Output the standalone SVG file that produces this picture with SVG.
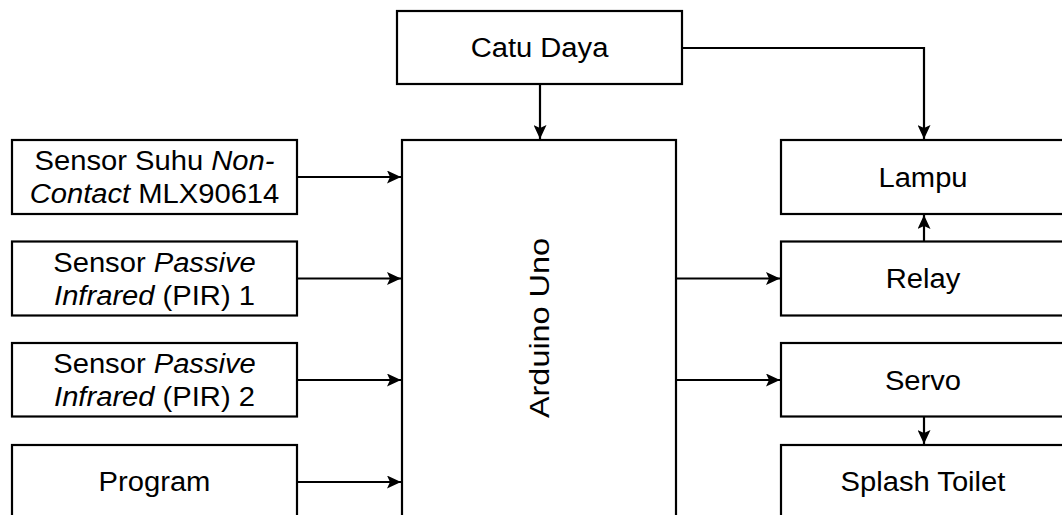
<svg xmlns="http://www.w3.org/2000/svg" width="1062" height="515" viewBox="0 0 1062 515">
<style>
  .box{fill:#fff;stroke:#000;stroke-width:2.2}
  .lbl{font-family:"Liberation Sans",Arial,sans-serif;font-size:27px;fill:#000;text-anchor:middle}
  .it{font-style:italic}
  .con{fill:none;stroke:#000;stroke-width:2.2}
</style>
<defs>
  <marker id="arr" markerUnits="userSpaceOnUse" markerWidth="14" markerHeight="13" viewBox="0 0 14 13" refX="14" refY="6.5" orient="auto">
    <path d="M0,0 L14,6.5 L0,13 L3,6.5 Z" fill="#000"/>
  </marker>
</defs>
<rect width="1062" height="515" fill="#fff"/>

<g id="catu-daya">
  <rect class="box" x="397" y="11" width="285" height="73"/>
  <text class="lbl" transform="translate(539.5,57) scale(1.08,1)">Catu Daya</text>
</g>

<g id="arduino-uno">
  <rect class="box" x="402" y="140" width="274" height="390"/>
  <text class="lbl" transform="translate(549,328) rotate(-90) scale(1.2,1)" font-size="28">Arduino Uno</text>
</g>

<g id="sensor-suhu">
  <rect class="box" x="12" y="140" width="285" height="74"/>
  <text class="lbl" transform="translate(154.5,0) scale(1.08,1)"><tspan x="0" y="170.5">Sensor Suhu <tspan class="it">Non-</tspan></tspan><tspan x="0" y="203"><tspan class="it">Contact</tspan> MLX90614</tspan></text>
</g>

<g id="pir-1">
  <rect class="box" x="12" y="241.5" width="285" height="74"/>
  <text class="lbl" transform="translate(154.5,0) scale(1.08,1)"><tspan x="0" y="272.5">Sensor <tspan class="it">Passive</tspan></tspan><tspan x="0" y="305"><tspan class="it">Infrared</tspan> (PIR) 1</tspan></text>
</g>

<g id="pir-2">
  <rect class="box" x="12" y="343" width="285" height="73.5"/>
  <text class="lbl" transform="translate(154.5,0) scale(1.08,1)"><tspan x="0" y="373.5">Sensor <tspan class="it">Passive</tspan></tspan><tspan x="0" y="406"><tspan class="it">Infrared</tspan> (PIR) 2</tspan></text>
</g>

<g id="program">
  <rect class="box" x="12" y="445" width="285" height="80"/>
  <text class="lbl" transform="translate(154.5,490.5) scale(1.08,1)">Program</text>
</g>

<g id="lampu">
  <rect class="box" x="781" y="140" width="290" height="74"/>
  <text class="lbl" transform="translate(923,186.5) scale(1.08,1)">Lampu</text>
</g>

<g id="relay">
  <rect class="box" x="781" y="241.5" width="290" height="74"/>
  <text class="lbl" transform="translate(923,288) scale(1.08,1)">Relay</text>
</g>

<g id="servo">
  <rect class="box" x="781" y="343" width="290" height="73.5"/>
  <text class="lbl" transform="translate(923,389.5) scale(1.08,1)">Servo</text>
</g>

<g id="splash-toilet">
  <rect class="box" x="781" y="445" width="290" height="80"/>
  <text class="lbl" transform="translate(923,490.5) scale(1.08,1)">Splash Toilet</text>
</g>

<g id="connectors">
  <path class="con" d="M540,84 V139" marker-end="url(#arr)"/>
  <path class="con" d="M682,48 H924 V139" marker-end="url(#arr)"/>
  <path class="con" d="M297,177 H401" marker-end="url(#arr)"/>
  <path class="con" d="M297,278.5 H401" marker-end="url(#arr)"/>
  <path class="con" d="M297,380 H401" marker-end="url(#arr)"/>
  <path class="con" d="M297,482 H401" marker-end="url(#arr)"/>
  <path class="con" d="M676,278.5 H780" marker-end="url(#arr)"/>
  <path class="con" d="M676,380 H780" marker-end="url(#arr)"/>
  <path class="con" d="M924,241.5 V215" marker-end="url(#arr)"/>
  <path class="con" d="M924,416.5 V444" marker-end="url(#arr)"/>
</g>
</svg>
